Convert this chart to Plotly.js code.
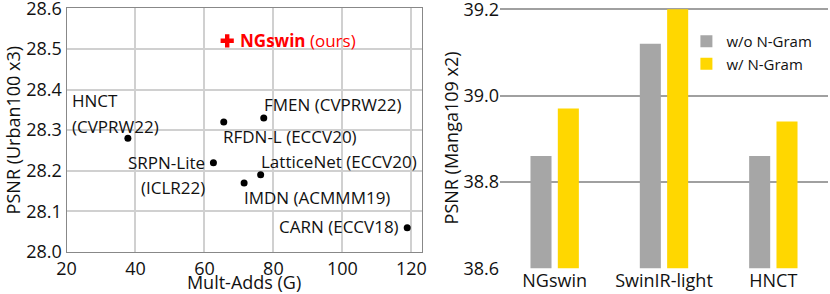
<!DOCTYPE html>
<html>
<head>
<meta charset="utf-8">
<script src="https://cdn.plot.ly/plotly-3.0.1.min.js"></script>
<style>html,body{margin:0;padding:0;background:#fff;}#chart{width:830px;height:294px;}</style>
</head>
<body>
<div id="chart"></div>
<script>
// ---- Left panel data: Urban100 x3 ----
const methods = ['HNCT', 'RFDN-L', 'FMEN', 'SRPN-Lite', 'LatticeNet', 'IMDN', 'CARN'];
const venues = ['CVPRW22', 'ECCV20', 'CVPRW22', 'ICLR22', 'ECCV20', 'ACMMM19', 'ECCV18'];
const multAdds = [37.8, 65.6, 77.2, 62.6, 76.3, 71.5, 118.8];
const psnrUrban = [28.28, 28.32, 28.33, 28.22, 28.19, 28.17, 28.06];
const oursName = ['NGswin'];
const oursMultAdds = [66.6];
const oursPsnr = [28.52];
const xTicksLeft = [20, 40, 60, 80, 100, 120];
const yTicksLeft = [28.0, 28.1, 28.2, 28.3, 28.4, 28.5, 28.6];

// ---- Right panel data: Manga109 x2 ----
const barCategories = ['NGswin', 'SwinIR-light', 'HNCT'];
const psnrWithout = [38.86, 39.12, 38.86];
const psnrWith = [38.97, 39.20, 38.94];
const seriesNames = ['w/o N-Gram', 'w/ N-Gram'];
const yTicksRight = [38.6, 38.8, 39.0, 39.2];

const FONT = 'Open Sans, Noto Sans, sans-serif';
const W = 830, H = 294;

// label placement (pixel offsets from each point), style only
const labelPlacement = {
  'HNCT':       {lines: 2, anchor: 'left',  dx: -58, dy: [38, 12]},
  'RFDN-L':     {lines: 1, anchor: 'left',  dx: -3,  dy: [-14]},
  'FMEN':       {lines: 1, anchor: 'left',  dx: -2,  dy: [13]},
  'SRPN-Lite':  {lines: 2, anchor: 'right', dx: -6,  dy: [0, -25]},
  'LatticeNet': {lines: 1, anchor: 'left',  dx: -2,  dy: [13]},
  'IMDN':       {lines: 1, anchor: 'left',  dx: -2,  dy: [-15]},
  'CARN':       {lines: 1, anchor: 'right', dx: -6,  dy: [1]}
};

const annotations = [];
methods.forEach((m, i) => {
  const p = labelPlacement[m];
  const texts = p.lines === 2 ? [m, '(' + venues[i] + ')'] : [m + ' (' + venues[i] + ')'];
  texts.forEach((t, k) => {
    annotations.push({
      xref: 'x', yref: 'y', x: multAdds[i], y: psnrUrban[i],
      text: t, showarrow: false, xanchor: p.anchor, yanchor: 'middle',
      xshift: p.dx, yshift: p.dy[k],
      font: {family: FONT, size: 17, color: '#111'}
    });
  });
});
annotations.push({
  xref: 'x', yref: 'y', x: oursMultAdds[0], y: oursPsnr[0],
  text: '<b>' + oursName[0] + '</b> (ours)', showarrow: false,
  xanchor: 'left', yanchor: 'middle', xshift: 11, yshift: 0,
  font: {family: FONT, size: 17, color: '#ff0000'}
});

const traces = [
  {
    type: 'scatter', mode: 'markers', x: multAdds, y: psnrUrban, text: methods,
    xaxis: 'x', yaxis: 'y', showlegend: false,
    marker: {color: '#000', size: 7, symbol: 'circle'}, cliponaxis: false
  },
  {
    type: 'scatter', mode: 'markers', x: oursMultAdds, y: oursPsnr, text: oursName,
    xaxis: 'x', yaxis: 'y', showlegend: false,
    marker: {color: '#ff0000', size: 11, symbol: 'cross'}, cliponaxis: false
  },
  {
    type: 'bar', name: seriesNames[0], x: barCategories, y: psnrWithout,
    xaxis: 'x2', yaxis: 'y2', marker: {color: '#a6a6a6'}
  },
  {
    type: 'bar', name: seriesNames[1], x: barCategories, y: psnrWith,
    xaxis: 'x2', yaxis: 'y2', marker: {color: '#ffd700'}
  }
];

const tickFont = {family: FONT, size: 18, color: '#111'};
// right panel: tiny headroom so the 39.2 gridline is not clipped at the edge
const rTop = 9.3, rBot = 268.3, rMin = 38.6, rMax = 39.2, rPad = 0.004;
const rPxPerUnit = (rBot - rTop) / (rMax - rMin);
const layout = {
  width: W, height: H,
  margin: {l: 0, r: 0, t: 0, b: 0},
  paper_bgcolor: '#fff', plot_bgcolor: '#fff',
  font: {family: FONT, color: '#111'},
  barmode: 'group', bargap: 0.5, bargroupgap: 0.23,
  showlegend: true,
  legend: {
    x: 0.827, y: 0.915, xanchor: 'left', yanchor: 'top',
    bgcolor: 'rgba(0,0,0,0)', font: {family: FONT, size: 15, color: '#111'},
    tracegroupgap: 0
  },
  xaxis: {
    domain: [66.5 / W, 421.7 / W], anchor: 'y',
    range: [20, 123], tickmode: 'array', tickvals: xTicksLeft,
    showgrid: true, gridcolor: '#d0d0d0', gridwidth: 2,
    showline: true, mirror: true, linecolor: '#888', linewidth: 1,
    zeroline: false, ticks: '', tickfont: tickFont, automargin: false,
    ticklabeloverflow: 'allow',
    title: {text: 'Mult-Adds (G)', font: {family: FONT, size: 18, color: '#111'}, standoff: 0}
  },
  yaxis: {
    domain: [1 - 252 / H, 1 - 8.3 / H], anchor: 'x',
    range: [28.0, 28.6], tickmode: 'array', tickvals: yTicksLeft, tickformat: '.1f',
    showgrid: true, gridcolor: '#d0d0d0', gridwidth: 2,
    showline: true, mirror: true, linecolor: '#888', linewidth: 1,
    zeroline: false, ticks: '', tickfont: tickFont, automargin: false,
    ticklabeloverflow: 'allow',
    title: {text: 'PSNR (Urban100 x3)', font: {family: FONT, size: 18, color: '#111'}, standoff: 0}
  },
  xaxis2: {
    domain: [500 / W, 828 / W], anchor: 'y2',
    type: 'category', range: [-0.5, 2.5],
    showgrid: false, showline: false, zeroline: false, ticks: '',
    tickfont: tickFont, automargin: false
  },
  yaxis2: {
    domain: [1 - rBot / H, 1 - (rTop - rPad * rPxPerUnit) / H], anchor: 'x2',
    range: [rMin, rMax + rPad], tickmode: 'array', tickvals: yTicksRight, tickformat: '.1f',
    showgrid: true, gridcolor: '#a0a0a0', gridwidth: 2,
    showline: false, zeroline: false, ticks: '', tickfont: tickFont, automargin: false,
    ticklabeloverflow: 'allow',
    title: {text: 'PSNR (Manga109 x2)', font: {family: FONT, size: 18, color: '#111'}, standoff: 0}
  },
  annotations: annotations
};

Plotly.newPlot('chart', traces, layout, {displayModeBar: false, staticPlot: true});
</script>
</body>
</html>
